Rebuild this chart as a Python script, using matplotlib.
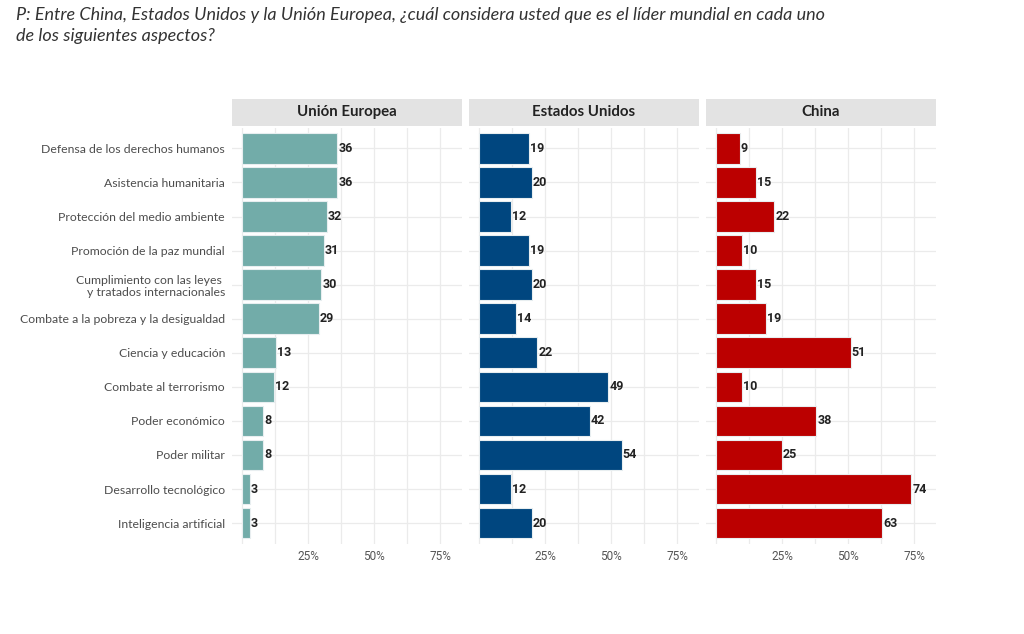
import matplotlib.pyplot as plt
from matplotlib.patches import Rectangle

# Datos (porcentajes)
categorias = [
    "Defensa de los derechos humanos",
    "Asistencia humanitaria",
    "Protección del medio ambiente",
    "Promoción de la paz mundial",
    "Cumplimiento con las leyes \ny tratados internacionales",
    "Combate a la pobreza y la desigualdad",
    "Ciencia y educación",
    "Combate al terrorismo",
    "Poder económico",
    "Poder militar",
    "Desarrollo tecnológico",
    "Inteligencia artificial",
]
paneles = ["Unión Europea", "Estados Unidos", "China"]
union_europea = [36, 36, 32, 31, 30, 29, 13, 12, 8, 8, 3, 3]
estados_unidos = [19, 20, 12, 19, 20, 14, 22, 49, 42, 54, 12, 20]
china = [9, 15, 22, 10, 15, 19, 51, 10, 38, 25, 74, 63]
colores = ["#72aca9", "#00467f", "#bb0000"]
ticks = [25, 50, 75]
tick_labels = ["25%", "50%", "75%"]

valores = [union_europea, estados_unidos, china]

W, H = 1024, 634
fig = plt.figure(figsize=(W / 100, H / 100), dpi=100)
fig.patch.set_facecolor("white")

# Pregunta en la parte superior
fig.text(16 / W, 1 - 15 / H,
         "P: Entre China, Estados Unidos y la Unión Europea, ¿cuál considera usted que es el líder mundial en cada uno",
         fontsize=13, style="italic", color="#333333", family="Lato", va="center")
fig.text(16 / W, 1 - 36 / H, "de los siguientes aspectos?",
         fontsize=13, style="italic", color="#333333", family="Lato", va="center")

lefts = [232, 469, 706]
ancho = 230
top, bottom = 128, 543.5
strip_h = 27
n = len(categorias)
ypos = list(range(n))

for i, (nombre, vals, col) in enumerate(zip(paneles, valores, colores)):
    ax = fig.add_axes([lefts[i] / W, 1 - bottom / H, ancho / W, (bottom - top) / H])
    ax.set_facecolor("white")
    ax.barh(ypos, vals, height=0.9, color=col, edgecolor="#e8eef0", linewidth=0.8, zorder=3)
    for y, v in zip(ypos, vals):
        ax.text(v + 0.4, y, str(v), va="center", ha="left", fontsize=9,
                fontweight="bold", color="#222222", family="Roboto", zorder=4)
    ax.set_xlim(-3.8, 83.3)
    ax.set_ylim(n - 0.4, -0.6)
    ax.set_xticks(ticks)
    ax.set_xticklabels(tick_labels, fontsize=8.5, color="#555555", family="Roboto")
    ax.set_xticks([12.5, 37.5, 62.5, 0], minor=True)
    ax.set_yticks(ypos)
    if i == 0:
        ax.set_yticklabels(categorias, fontsize=8.8, color="#4d4d4d", family="Lato")
    else:
        ax.set_yticklabels([])
    ax.grid(True, which="both", color="#ebebeb", linewidth=0.9, zorder=0)
    ax.tick_params(length=0, which="both", pad=5)
    for s in ax.spines.values():
        s.set_visible(False)
    # Franja del titulo del panel
    rect = Rectangle((0, 1.005), 1, strip_h / (bottom - top), transform=ax.transAxes,
                     facecolor="#e3e3e3", edgecolor="none", clip_on=False)
    ax.add_patch(rect)
    ax.text(0.5, 1.005 + strip_h / (bottom - top) / 2, nombre, transform=ax.transAxes,
            ha="center", va="center", fontsize=10.8, fontweight="bold", color="#222222",
            family="Lato")

fig.savefig("out.png", dpi=100)
